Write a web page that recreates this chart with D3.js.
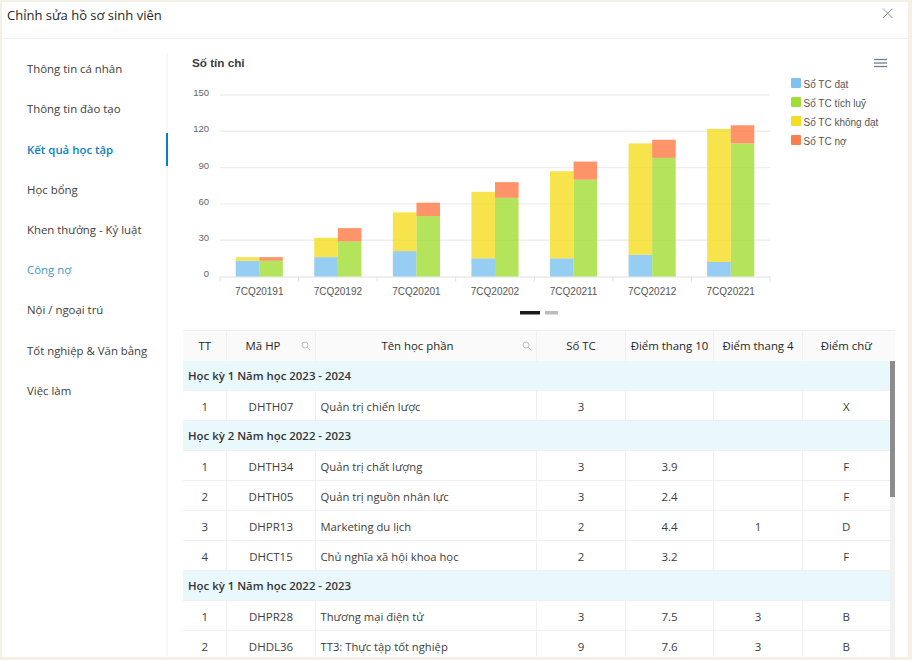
<!DOCTYPE html>
<html>
<head>
<meta charset="utf-8">
<script src="https://cdn.jsdelivr.net/npm/d3@7"></script>
<style>
    html, body { margin: 0; padding: 0; background: #f3f0e6; overflow: hidden; }
    text { font-family: "Open Sans", sans-serif; }
    .chart text { font-family: "Liberation Sans", Arial, sans-serif; }
    .axis .domain, .axis line { stroke: #e0e0e0; }
</style>
</head>
<body>
<svg id="page" width="912" height="660"></svg>
<script>
const menuItems = ["Thông tin cá nhân", "Thông tin đào tạo", "Kết quả học tập", "Học bổng",
    "Khen thưởng - Kỷ luật", "Công nợ", "Nội / ngoại trú", "Tốt nghiệp & Văn bằng", "Việc làm"];

// chart values
const semesters = ["7CQ20191", "7CQ20192", "7CQ20201", "7CQ20202", "7CQ20211", "7CQ20212", "7CQ20221"];
const tcDat = [13, 16, 21, 15, 15, 18, 12];
const tcKhongDat = [3, 16, 32, 55, 72, 92, 110];
const tcTichLuy = [13, 29, 50, 65, 80, 98, 110];
const tcNo = [3, 11, 11, 13, 15, 15, 15];
const yTicks = [0, 30, 60, 90, 120, 150];
const legendNames = ["Số TC đạt", "Số TC tích luỹ", "Số TC không đạt", "Số TC nợ"];
const legendColors = ["#7fc2f0", "#a3de38", "#f5dd25", "#ff7d4a"];

// table values
const headers = ["TT", "Mã HP", "Tên học phần", "Số TC", "Điểm thang 10", "Điểm thang 4", "Điểm chữ"];
const colEdges = [183, 226.5, 315.5, 536.5, 625.5, 713.5, 802.5, 890];
const rows = [
    ["Học kỳ 1 Năm học 2023 - 2024"],
    ["1", "DHTH07", "Quản trị chiến lược", "3", "", "", "X"],
    ["Học kỳ 2 Năm học 2022 - 2023"],
    ["1", "DHTH34", "Quản trị chất lượng", "3", "3.9", "", "F"],
    ["2", "DHTH05", "Quản trị nguồn nhân lực", "3", "2.4", "", "F"],
    ["3", "DHPR13", "Marketing du lịch", "2", "4.4", "1", "D"],
    ["4", "DHCT15", "Chủ nghĩa xã hội khoa học", "2", "3.2", "", "F"],
    ["Học kỳ 1 Năm học 2022 - 2023"],
    ["1", "DHPR28", "Thương mại điện tử", "3", "7.5", "3", "B"],
    ["2", "DHDL36", "TT3: Thực tập tốt nghiệp", "9", "7.6", "3", "B"]
];

const svg = d3.select("#page");
const lineColor = "#f0f0f0";
const textColor = "#3d3d3d";

// modal box
svg.append("rect").attr("x", 2).attr("y", 2).attr("width", 906).attr("height", 655).attr("fill", "#fff");
svg.append("text").attr("x", 7).attr("y", 20).attr("font-size", 13).attr("fill", "#262626")
    .text("Chỉnh sửa hồ sơ sinh viên");
svg.append("line").attr("x1", 2).attr("x2", 908).attr("y1", 38.5).attr("y2", 38.5).attr("stroke", lineColor);
svg.append("path").attr("d", "M883 8.5L892.5 18M892.5 8.5L883 18").attr("stroke", "#8c8c8c").attr("fill", "none");

// left menu
const menuY = d3.scalePoint().domain(menuItems).range([69, 390.5]);
svg.append("line").attr("x1", 167).attr("x2", 167).attr("y1", 53).attr("y2", 657).attr("stroke", lineColor);
svg.append("rect").attr("x", 166).attr("y", 133).attr("width", 2).attr("height", 33).attr("fill", "#0a7fc0");
svg.append("g").selectAll("text").data(menuItems).join("text")
    .attr("x", 27)
    .attr("y", d => menuY(d) + 4.2)
    .attr("font-size", 11.4)
    .attr("font-weight", d => d === "Kết quả học tập" ? 600 : 400)
    .attr("fill", d => d === "Kết quả học tập" ? "#0a7fc0" : d === "Công nợ" ? "#3c97bd" : textColor)
    .text(d => d);

// chart
const chart = svg.append("g").attr("class", "chart");
const x = d3.scaleBand().domain(semesters).range([220, 770]);
const y = d3.scaleLinear().domain([0, 150]).range([276.5, 95]);
const inner = d3.scaleBand().domain([0, 1]).range([x.bandwidth() * 0.2, x.bandwidth() * 0.8]);

chart.append("text").attr("x", 192).attr("y", 67).attr("font-size", 11.7).attr("font-weight", 700)
    .attr("fill", "#373d3f").text("Số tín chỉ");

chart.append("g").selectAll("line").data(yTicks.slice(1)).join("line")
    .attr("x1", 220).attr("x2", 770)
    .attr("y1", d => y(d)).attr("y2", d => y(d))
    .attr("stroke", "#eeeeee")
    .attr("stroke-width", 1.4);

const yAxis = chart.append("g").attr("class", "axis").attr("transform", "translate(212,0)")
    .call(d3.axisLeft(y).tickValues(yTicks).tickSize(0));
yAxis.select(".domain").remove();
yAxis.selectAll("text").attr("font-size", 9.5).attr("fill", "#666").attr("dy", "0.05em");

const xAxis = chart.append("g").attr("class", "axis").attr("transform", "translate(0,276.5)")
    .call(d3.axisBottom(x).tickSize(0).tickPadding(11));
xAxis.selectAll("text").attr("font-size", 10).attr("fill", "#555");
xAxis.selectAll("line.edge").data(d3.range(semesters.length + 1)).join("line")
    .attr("class", "edge")
    .attr("x1", d => 220 + d * x.step()).attr("x2", d => 220 + d * x.step())
    .attr("y1", 0).attr("y2", 5)
    .attr("stroke", "#e0e0e0");

// two stacks per semester: dat + khong dat, tich luy + no
const stackSeries = [
    { pos: 0, bottom: null, values: tcDat, color: legendColors[0] },
    { pos: 1, bottom: null, values: tcTichLuy, color: legendColors[1] },
    { pos: 0, bottom: tcDat, values: tcKhongDat, color: legendColors[2] },
    { pos: 1, bottom: tcTichLuy, values: tcNo, color: legendColors[3] }
];
stackSeries.forEach(s => {
    chart.append("g").selectAll("rect").data(semesters).join("rect")
        .attr("x", d => x(d) + inner(s.pos))
        .attr("width", inner.bandwidth())
        .attr("y", (d, i) => y((s.bottom ? s.bottom[i] : 0) + s.values[i]))
        .attr("height", (d, i) => y(0) - y(s.values[i]))
        .attr("fill", s.color)
        .attr("fill-opacity", 0.82);
});

// legend
const legendY = d3.scalePoint().domain(legendNames).range([83, 140]);
const legend = chart.append("g").selectAll("g").data(legendNames).join("g")
    .attr("transform", d => `translate(791,${legendY(d)})`);
legend.append("rect").attr("x", 0).attr("y", -5).attr("width", 10).attr("height", 10).attr("rx", 1)
    .attr("fill", (d, i) => legendColors[i]);
legend.append("text").attr("x", 12.5).attr("y", 5).attr("font-size", 10).attr("fill", "#555").text(d => d);

// hamburger menu and scroll dots
[59.5, 63, 66.5].forEach(v => {
    chart.append("line").attr("x1", 874).attr("x2", 887).attr("y1", v).attr("y2", v)
        .attr("stroke", "#6e8192").attr("stroke-width", 1.3);
});
chart.append("rect").attr("x", 520).attr("y", 311).attr("width", 20).attr("height", 3.5).attr("fill", "#1a1a1a");
chart.append("rect").attr("x", 545).attr("y", 311).attr("width", 13).attr("height", 3.5).attr("fill", "#bdbdbd");

// table
const table = svg.append("g").attr("class", "table");
const rowY = d3.scaleLinear().domain([0, 1]).range([361, 391]);
const colLeft = i => colEdges[i];
const colMid = i => (colEdges[i] + colEdges[i + 1]) / 2;

table.append("rect").attr("x", 183).attr("y", 331).attr("width", 712).attr("height", 30).attr("fill", "#fafafa");
table.append("line").attr("x1", 183).attr("x2", 895).attr("y1", 330.5).attr("y2", 330.5).attr("stroke", lineColor);

headers.forEach((h, i) => {
    let cx = colMid(i);
    if (i === 1) cx = 263;
    if (i === 2) cx = 417.5;
    table.append("text").attr("x", cx).attr("y", 350).attr("text-anchor", "middle")
        .attr("font-size", 11.4).attr("font-weight", 500).attr("fill", "#262626").text(h);
});

// little search icons in the header
[306, 527].forEach(cx => {
    table.append("circle").attr("cx", cx - 1).attr("cy", 345).attr("r", 3)
        .attr("fill", "none").attr("stroke", "#bfbfbf");
    table.append("line").attr("x1", cx + 1.2).attr("y1", 347.2).attr("x2", cx + 4).attr("y2", 350)
        .attr("stroke", "#bfbfbf");
});

rows.forEach((r, n) => {
    const top = rowY(n);
    const isGroup = r.length === 1;
    table.append("rect").attr("x", 183).attr("y", top).attr("width", 707).attr("height", 30)
        .attr("fill", isGroup ? "#e9f8fd" : "#fff");
    table.append("line").attr("x1", 183).attr("x2", 890).attr("y1", top + 29.5).attr("y2", top + 29.5)
        .attr("stroke", lineColor);
    if (isGroup) {
        table.append("text").attr("x", 188).attr("y", top + 19.2).attr("font-size", 11.4)
            .attr("font-weight", 600).attr("fill", "#333").text(r[0]);
    } else {
        r.forEach((v, i) => {
            table.append("text")
                .attr("x", i === 2 ? colLeft(i) + 5 : colMid(i))
                .attr("y", top + 20)
                .attr("text-anchor", i === 2 ? "start" : "middle")
                .attr("font-size", i === 2 ? 11.25 : 11.5).attr("fill", textColor).text(v);
        });
    }
});

// column separators, only on plain rows and header
colEdges.slice(1, -1).forEach(e => {
    table.append("line").attr("x1", e).attr("x2", e).attr("y1", 331).attr("y2", 361).attr("stroke", lineColor);
    rows.forEach((r, n) => {
        if (r.length > 1) {
            table.append("line").attr("x1", e).attr("x2", e)
                .attr("y1", rowY(n)).attr("y2", rowY(n) + 30).attr("stroke", lineColor);
        }
    });
});

// scrollbar
table.append("rect").attr("x", 890).attr("y", 361).attr("width", 5).attr("height", 296).attr("fill", "#f1f1f1");
table.append("rect").attr("x", 890).attr("y", 361).attr("width", 5).attr("height", 136).attr("fill", "#8c8c8c");

// beige frame stays on top so rows get cut at the bottom
svg.append("rect").attr("x", 0).attr("y", 657).attr("width", 912).attr("height", 3).attr("fill", "#f3f0e6");
</script>
</body>
</html>
